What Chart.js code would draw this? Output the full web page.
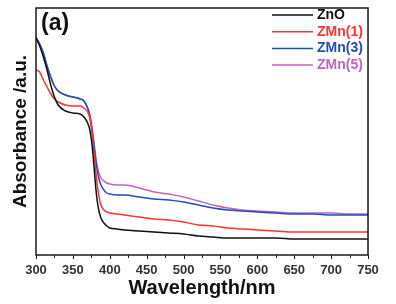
<!DOCTYPE html>
<html>
<head>
<meta charset="utf-8">
<script src="https://cdn.jsdelivr.net/npm/chart.js@4.4.1/dist/chart.umd.min.js"></script>
<style>
    html, body { margin: 0; padding: 0; background: #fff; }
    #wrap { width: 396px; height: 304px; }
</style>
</head>
<body>
<div id="wrap"><canvas id="uvChart" width="396" height="304"></canvas></div>
<script>
// wavelength (nm) and absorbance (a.u.)
const wavelengths = [300, 305, 310, 315, 320, 325, 330, 340, 350, 360, 365, 370, 373, 376, 379, 382, 385, 388, 392, 396,
    400, 410, 420, 440, 460, 480, 500, 520, 540, 560, 580, 600, 625, 650, 675, 700, 725, 750];
const zno = [2.17, 2.09, 1.98, 1.85, 1.70, 1.58, 1.50, 1.44, 1.42, 1.41, 1.38, 1.32, 1.25, 1.10, 0.85, 0.60, 0.45, 0.37, 0.32, 0.29,
    0.27, 0.26, 0.25, 0.24, 0.23, 0.22, 0.21, 0.19, 0.18, 0.17, 0.17, 0.17, 0.17, 0.16, 0.16, 0.16, 0.16, 0.16];
const zmn1 = [1.85, 1.83, 1.75, 1.68, 1.61, 1.56, 1.53, 1.50, 1.49, 1.49, 1.47, 1.43, 1.37, 1.22, 1.00, 0.77, 0.60, 0.50, 0.45, 0.43,
    0.42, 0.41, 0.40, 0.38, 0.36, 0.35, 0.33, 0.30, 0.29, 0.27, 0.26, 0.25, 0.24, 0.23, 0.23, 0.23, 0.23, 0.23];
const zmn3 = [2.18, 2.11, 2.02, 1.89, 1.78, 1.69, 1.64, 1.60, 1.58, 1.56, 1.54, 1.47, 1.39, 1.25, 1.07, 0.89, 0.77, 0.70, 0.65, 0.62,
    0.61, 0.60, 0.60, 0.58, 0.56, 0.55, 0.53, 0.50, 0.47, 0.45, 0.44, 0.43, 0.42, 0.41, 0.41, 0.40, 0.40, 0.40];
const zmn5 = [2.17, 2.11, 2.02, 1.89, 1.78, 1.69, 1.64, 1.60, 1.58, 1.56, 1.54, 1.47, 1.40, 1.27, 1.10, 0.93, 0.83, 0.77, 0.74, 0.72,
    0.71, 0.70, 0.70, 0.67, 0.63, 0.61, 0.58, 0.54, 0.50, 0.47, 0.45, 0.44, 0.43, 0.42, 0.42, 0.42, 0.41, 0.41];
const seriesNames = ['ZnO', 'ZMn(1)', 'ZMn(3)', 'ZMn(5)'];
const seriesColors = ['#111111', '#ff3333', '#1f4fb4', '#c064c0'];
const xTicks = [300, 350, 400, 450, 500, 550, 600, 650, 700, 750];
const xMinorTicks = [325, 375, 425, 475, 525, 575, 625, 675, 725];

function toPoints(values) {
    return wavelengths.map((w, i) => ({ x: w, y: values[i] }));
}

// frame, outer ticks, panel letter and legend
const framePlugin = {
    id: 'framePlugin',
    afterDatasetsDraw(chart) {
        const ctx = chart.ctx;
        const a = chart.chartArea;
        const x = chart.scales.x;
        ctx.save();
        ctx.strokeStyle = '#1a1a1a';
        ctx.lineWidth = 1.5;
        ctx.strokeRect(a.left, a.top, a.right - a.left, a.bottom - a.top);

        ctx.lineWidth = 1;
        ctx.beginPath();
        xTicks.forEach(v => {
            const px = Math.round(x.getPixelForValue(v)) + 0.5;
            ctx.moveTo(px, a.bottom);
            ctx.lineTo(px, a.bottom + 4);
        });
        xMinorTicks.forEach(v => {
            const px = Math.round(x.getPixelForValue(v)) + 0.5;
            ctx.moveTo(px, a.bottom);
            ctx.lineTo(px, a.bottom + 3);
        });
        ctx.stroke();

        ctx.fillStyle = '#111';
        ctx.font = 'bold 23px "Liberation Sans", Arial, sans-serif';
        ctx.textBaseline = 'middle';
        ctx.textAlign = 'left';
        ctx.fillText('(a)', a.left + 5, a.top + 16);

        ctx.font = 'bold 14px "Liberation Sans", Arial, sans-serif';
        chart.data.datasets.forEach((ds, i) => {
            const y = a.top + 7 + i * 16.7;
            ctx.strokeStyle = ds.borderColor;
            ctx.lineWidth = 1.5;
            ctx.beginPath();
            ctx.moveTo(a.right - 96, y);
            ctx.lineTo(a.right - 55, y);
            ctx.stroke();
            ctx.fillStyle = ds.borderColor;
            ctx.fillText(ds.label, a.right - 51, y);
        });
        ctx.restore();
    }
};

const ctx = document.getElementById('uvChart').getContext('2d');
new Chart(ctx, {
    type: 'line',
    data: {
        datasets: [zno, zmn1, zmn3, zmn5].map((vals, i) => ({
            label: seriesNames[i],
            data: toPoints(vals),
            borderColor: seriesColors[i],
            backgroundColor: seriesColors[i],
            borderWidth: 1.5,
            pointRadius: 0,
            cubicInterpolationMode: 'monotone',
            fill: false
        }))
    },
    options: {
        responsive: false,
        animation: false,
        layout: { padding: { left: 0, top: 8, right: 28, bottom: 0 } },
        plugins: {
            legend: { display: false },
            tooltip: { enabled: false }
        },
        scales: {
            x: {
                type: 'linear',
                min: 300,
                max: 750,
                afterBuildTicks: scale => { scale.ticks = xTicks.map(v => ({ value: v })); },
                afterFit: scale => { scale.height = 49; },
                grid: { display: false, drawTicks: false },
                border: { display: false },
                ticks: {
                    padding: 8,
                    color: '#333',
                    font: { family: '"Liberation Sans", Arial, sans-serif', size: 13, weight: 'bold' }
                },
                title: {
                    display: true,
                    text: 'Wavelength/nm',
                    color: '#111',
                    padding: { top: 0, bottom: 4 },
                    font: { family: '"Liberation Sans", Arial, sans-serif', size: 20, weight: 'bold' }
                }
            },
            y: {
                min: 0,
                max: 2.47,
                afterFit: scale => { scale.width = 36; },
                grid: { display: false, drawTicks: false },
                border: { display: false },
                ticks: { display: false },
                title: {
                    display: true,
                    text: 'Absorbance /a.u.',
                    color: '#111',
                    padding: { top: 9, bottom: 0 },
                    font: { family: '"Liberation Sans", Arial, sans-serif', size: 19, weight: 'bold' }
                }
            }
        }
    },
    plugins: [framePlugin]
});
</script>
</body>
</html>
